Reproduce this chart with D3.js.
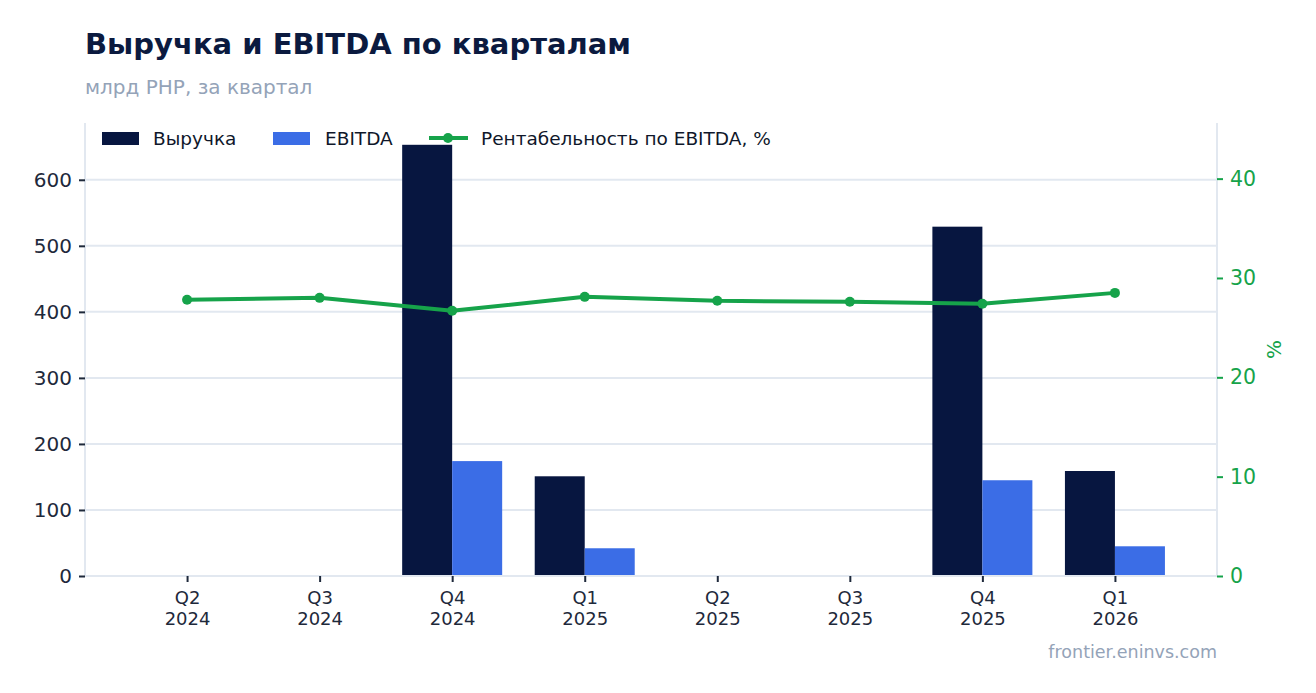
<!DOCTYPE html>
<html lang="ru">
<head>
  <meta charset="UTF-8">
  <script src="https://d3js.org/d3.v7.min.js"></script>
  <title>Выручка и EBITDA по кварталам</title>
  <style>
    body {
      margin: 0;
      background: #fff;
      font-family: "DejaVu Sans", sans-serif;
      overflow: hidden;
    }
  </style>
</head>
<body>
<script>
  // Data
  const quarters = ["Q2", "Q3", "Q4", "Q1", "Q2", "Q3", "Q4", "Q1"];
  const years = ["2024", "2024", "2024", "2025", "2025", "2025", "2025", "2026"];
  const revenue = [null, null, 653, 151, null, null, 529, 159];
  const ebitda = [null, null, 174, 42, null, null, 145, 45];
  const margin = [27.8, 28.0, 26.7, 28.1, 27.7, 27.6, 27.4, 28.5];
  const leftTicks = [0, 100, 200, 300, 400, 500, 600];
  const rightTicks = [0, 10, 20, 30, 40];

  const width = 1316, height = 693;
  const m = { top: 123, right: 99, bottom: 117, left: 85 };
  const innerW = width - m.left - m.right;
  const innerH = height - m.top - m.bottom;

  const navy = "#071640", blue = "#3b6de6", green = "#16a34a";
  const grid = "#e2e8f0", textDark = "#0f172a", muted = "#94a3b8";

  const svg = d3.select("body").append("svg")
    .attr("width", width)
    .attr("height", height);

  // Title and subtitle
  svg.append("text")
    .attr("x", 85).attr("y", 54)
    .attr("font-size", 29).attr("font-weight", "bold")
    .attr("fill", "#0b1a3f")
    .text("Выручка и EBITDA по кварталам");
  svg.append("text")
    .attr("x", 85).attr("y", 94)
    .attr("font-size", 20).attr("fill", muted)
    .text("млрд РНР, за квартал");

  const keys = quarters.map((q, i) => i);
  const x = d3.scalePoint().domain(keys).range([0, innerW]).padding(0.77);
  const barW = 50;
  const y = d3.scaleLinear().domain([0, 686]).range([innerH, 0]);
  const y2 = d3.scaleLinear().domain([0, 45.6]).range([innerH, 0]);

  const g = svg.append("g").attr("transform", `translate(${m.left},${m.top})`);

  // Gridlines
  g.append("g").selectAll("line").data(leftTicks).enter().append("line")
    .attr("x1", 0).attr("x2", innerW)
    .attr("y1", d => y(d)).attr("y2", d => y(d))
    .attr("stroke", grid).attr("stroke-width", 2);

  // Frame lines
  g.append("line").attr("x1", 0).attr("x2", 0).attr("y1", 0).attr("y2", innerH)
    .attr("stroke", grid).attr("stroke-width", 2);
  g.append("line").attr("x1", innerW).attr("x2", innerW).attr("y1", 0).attr("y2", innerH)
    .attr("stroke", grid).attr("stroke-width", 2);

  // Bars
  g.append("g").selectAll("rect").data(keys.filter(i => revenue[i] != null)).enter().append("rect")
    .attr("x", i => x(i) - barW)
    .attr("y", i => y(revenue[i]))
    .attr("width", barW)
    .attr("height", i => innerH - y(revenue[i]))
    .attr("fill", navy);
  g.append("g").selectAll("rect").data(keys.filter(i => ebitda[i] != null)).enter().append("rect")
    .attr("x", i => x(i))
    .attr("y", i => y(ebitda[i]))
    .attr("width", barW)
    .attr("height", i => innerH - y(ebitda[i]))
    .attr("fill", blue);

  // Left axis
  const yAxis = g.append("g")
    .call(d3.axisLeft(y).tickValues(leftTicks).tickSize(6).tickPadding(7));
  yAxis.select(".domain").remove();
  yAxis.selectAll(".tick line").attr("stroke", "#1e293b").attr("stroke-width", 2);
  yAxis.selectAll(".tick text").attr("font-size", 20).attr("fill", "#1e293b")
    .attr("font-family", "DejaVu Sans");

  // Right axis
  const y2Axis = g.append("g").attr("transform", `translate(${innerW},0)`)
    .call(d3.axisRight(y2).tickValues(rightTicks).tickSize(6).tickPadding(7));
  y2Axis.select(".domain").remove();
  y2Axis.selectAll(".tick line").attr("stroke", green).attr("stroke-width", 2);
  y2Axis.selectAll(".tick text").attr("font-size", 20.5).attr("fill", green)
    .attr("font-family", "DejaVu Sans");
  svg.append("text")
    .attr("transform", `translate(1281,${m.top + innerH / 2}) rotate(-90)`)
    .attr("text-anchor", "middle")
    .attr("font-size", 20).attr("fill", green)
    .text("%");

  // Bottom axis
  g.append("line").attr("x1", 0).attr("x2", innerW).attr("y1", innerH).attr("y2", innerH)
    .attr("stroke", grid).attr("stroke-width", 2);
  const xAxis = g.append("g").attr("transform", `translate(0,${innerH})`)
    .call(d3.axisBottom(x).tickSize(6).tickFormat(""));
  xAxis.select(".domain").remove();
  xAxis.selectAll(".tick line").attr("stroke", "#1e293b").attr("stroke-width", 2);
  const xt = xAxis.selectAll(".tick").append("text")
    .attr("text-anchor", "middle")
    .attr("font-size", 18).attr("fill", "#1e293b")
    .attr("font-family", "DejaVu Sans");
  xt.append("tspan").attr("x", 0).attr("y", 28).text(i => quarters[i]);
  xt.append("tspan").attr("x", 0).attr("y", 49).text(i => years[i]);

  // Margin line
  const line = d3.line().x(i => x(i)).y(i => y2(margin[i]));
  g.append("path").datum(keys)
    .attr("d", line)
    .attr("fill", "none")
    .attr("stroke", green).attr("stroke-width", 4)
    .attr("stroke-linejoin", "round");
  g.append("g").selectAll("circle").data(keys).enter().append("circle")
    .attr("cx", i => x(i)).attr("cy", i => y2(margin[i]))
    .attr("r", 5).attr("fill", green);

  // Legend
  const lg = svg.append("g").attr("font-size", 18.5).attr("fill", textDark);
  lg.append("rect").attr("x", 102).attr("y", 132).attr("width", 37).attr("height", 13).attr("fill", navy);
  lg.append("text").attr("x", 153).attr("y", 145).text("Выручка");
  lg.append("rect").attr("x", 273).attr("y", 132).attr("width", 37).attr("height", 13).attr("fill", blue);
  lg.append("text").attr("x", 325).attr("y", 145).text("EBITDA");
  lg.append("line").attr("x1", 429).attr("x2", 468).attr("y1", 138).attr("y2", 138)
    .attr("stroke", green).attr("stroke-width", 4);
  lg.append("circle").attr("cx", 448).attr("cy", 138).attr("r", 5).attr("fill", green);
  lg.append("text").attr("x", 481).attr("y", 145).text("Рентабельность по EBITDA, %");

  // Source
  svg.append("text")
    .attr("x", 1217).attr("y", 658)
    .attr("text-anchor", "end")
    .attr("font-size", 17.5).attr("fill", muted)
    .text("frontier.eninvs.com");
</script>
</body>
</html>
